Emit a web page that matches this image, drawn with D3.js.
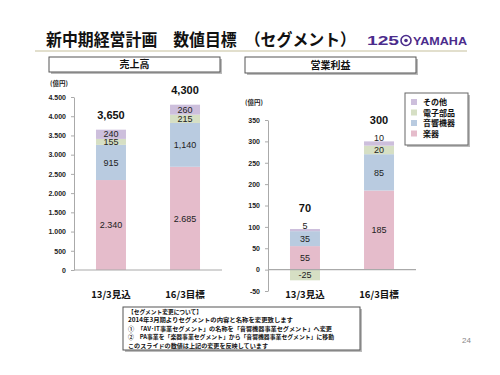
<!DOCTYPE html>
<html>
<head>
<meta charset="utf-8">
<script src="https://cdn.jsdelivr.net/npm/d3@7"></script>
<style>
  body { margin: 0; background: #fff; }
  svg { display: block; }
  text { font-family: "Liberation Sans", Arial, sans-serif; }
  .jp { font-family: "Noto Sans CJK JP", sans-serif; }
</style>
</head>
<body>
<svg id="chart" width="500" height="375"></svg>
<script>
// data
var periods = ["13/3見込", "16/3目標"];
var segments = ["楽器", "音響機器", "電子部品", "その他"];   // stacking order, bottom first
var salesGakki = [2340, 2685];
var salesOnkyo = [915, 1140];
var salesDenshi = [155, 215];
var salesOther = [240, 260];
var salesTotal = [3650, 4300];
var profitGakki = [55, 185];
var profitOnkyo = [35, 85];
var profitDenshi = [-25, 20];
var profitOther = [5, 10];
var profitTotal = [70, 300];
var salesTicks = [0, 500, 1000, 1500, 2000, 2500, 3000, 3500, 4000, 4500];
var profitTicks = [-50, 0, 50, 100, 150, 200, 250, 300, 350];
var legendOrder = ["その他", "電子部品", "音響機器", "楽器"];
var noteLines = [
  "【セグメント変更について】",
  "2014年3月期よりセグメントの内容と名称を変更致します",
  "①　「AV･IT事業セグメント」の名称を「音響機器事業セグメント」へ変更",
  "②　PA事業を「楽器事業セグメント」から「音響機器事業セグメント」に移動",
  "このスライドの数値は上記の変更を反映しています"
];

var colors = {"楽器": "#e5bccb", "音響機器": "#b9cbe0", "電子部品": "#d6dfc4", "その他": "#cdbfdc"};
var purple = "#4b2c8c";

var svg = d3.select("#chart");

// title
svg.append("text").attr("class", "jp")
  .attr("x", 46).attr("y", 46)
  .style("font-size", "16.5px").style("font-weight", "bold").attr("fill", "#111")
  .attr("textLength", 310).attr("lengthAdjust", "spacingAndGlyphs")
  .text("新中期経営計画　数値目標　（セグメント）");
svg.append("line").attr("x1", 35).attr("x2", 467).attr("y1", 51).attr("y2", 51)
  .attr("stroke", "#d8d4bc").attr("stroke-width", 1.5);

// logo
var logo = svg.append("g");
logo.append("text").attr("x", 367).attr("y", 45)
  .style("font-size", "12px").style("font-weight", "bold").attr("fill", purple)
  .attr("textLength", 32).attr("lengthAdjust", "spacingAndGlyphs").text("125");
logo.append("circle").attr("cx", 406).attr("cy", 40.5).attr("r", 5)
  .attr("fill", "#fff").attr("stroke", purple).attr("stroke-width", 1.6);
logo.append("circle").attr("cx", 406).attr("cy", 40.5).attr("r", 1.8).attr("fill", purple);
logo.append("text").attr("x", 413).attr("y", 45)
  .style("font-size", "11px").style("font-weight", "bold").attr("fill", purple)
  .attr("textLength", 54).attr("lengthAdjust", "spacingAndGlyphs").text("YAMAHA");

function headerBox(x, y, w, h, label) {
  svg.append("rect").attr("x", x + 2).attr("y", y + 2).attr("width", w).attr("height", h).attr("fill", "#bbb");
  svg.append("rect").attr("x", x).attr("y", y).attr("width", w).attr("height", h)
    .attr("fill", "#fff").attr("stroke", "#555").attr("stroke-width", 1);
  svg.append("text").attr("class", "jp").attr("x", x + w / 2).attr("y", y + h / 2 + 3.5)
    .attr("text-anchor", "middle").style("font-size", "10px").style("font-weight", "bold")
    .attr("fill", "#111").text(label);
}

function drawPanel(opt) {
  var g = svg.append("g");
  var x = d3.scaleBand().domain(periods).range(opt.xRange).paddingInner(0.595).paddingOuter(0.297);
  var y = d3.scaleLinear().domain(opt.domain).range(opt.yRange);

  // stack, negatives go downward from 0
  var bars = [];
  periods.forEach(function(p, i) {
    var pos = 0, neg = 0;
    segments.forEach(function(s, k) {
      var v = opt.series[k][i];
      var y0, y1;
      if (v >= 0) { y0 = pos; y1 = pos + v; pos = y1; }
      else { y0 = neg + v; y1 = neg; neg = y0; }
      bars.push({period: p, seg: s, v: v, y0: y0, y1: y1, top: k == segments.length - 1});
    });
  });

  g.selectAll("rect.seg").data(bars).enter().append("rect").attr("class", "seg")
    .attr("x", function(d) { return x(d.period); })
    .attr("width", x.bandwidth())
    .attr("y", function(d) { return y(d.y1); })
    .attr("height", function(d) { return y(d.y0) - y(d.y1); })
    .attr("fill", function(d) { return colors[d.seg]; });

  g.selectAll("text.seg").data(bars).enter().append("text").attr("class", "seg")
    .attr("x", function(d) { return x(d.period) + x.bandwidth() / 2; })
    .attr("y", function(d) {
      var h = y(d.y0) - y(d.y1);
      if (d.top && h < 6) return y(d.y1) - 0.5;
      return (y(d.y0) + y(d.y1)) / 2 + 3.2;
    })
    .attr("text-anchor", "middle").style("font-size", "9px").attr("fill", "#222")
    .text(function(d) { return opt.fmt(d); });

  // y axis
  var ax = g.append("g").attr("transform", "translate(" + opt.xRange[0] + ",0)")
    .call(d3.axisLeft(y).tickValues(opt.ticks).tickSize(3).tickSizeOuter(0).tickPadding(5).tickFormat(opt.tickFmt));
  ax.select(".domain").attr("stroke", "#aaa");
  ax.selectAll(".tick line").attr("stroke", "#aaa");
  ax.selectAll(".tick text").style("font-size", "7px").style("font-weight", "bold")
    .style("font-family", "Liberation Sans, Arial, sans-serif").attr("fill", "#222");

  // zero line
  g.append("line").attr("x1", opt.xRange[0]).attr("x2", opt.xRange[1])
    .attr("y1", y(0)).attr("y2", y(0)).attr("stroke", "#aaa").attr("stroke-width", 1.2);

  // totals
  g.selectAll("text.total").data(periods).enter().append("text").attr("class", "total")
    .attr("x", function(p) { return x(p) + x.bandwidth() / 2; })
    .attr("y", function(p, i) {
      var top = d3.sum(opt.series, function(s) { return Math.max(0, s[i]); });
      return y(top) - opt.totalGap;
    })
    .attr("text-anchor", "middle").style("font-size", "11px").style("font-weight", "bold").attr("fill", "#111")
    .text(function(p, i) { return d3.format(",")(opt.totals[i]); });

  // categories
  g.selectAll("text.cat").data(periods).enter().append("text").attr("class", "cat jp")
    .attr("x", function(p) { return x(p) + x.bandwidth() / 2; })
    .attr("y", 298)
    .attr("text-anchor", "middle").style("font-size", "9.5px").style("font-weight", "bold").attr("fill", "#111")
    .text(function(p) { return p; });

  // unit
  g.append("text").attr("class", "jp").attr("x", opt.unitX).attr("y", opt.unitY)
    .style("font-size", "6.5px").style("font-weight", "bold").attr("fill", "#222").text("(億円)");
}

headerBox(49, 57, 171, 15, "売上高");
headerBox(245, 57, 171, 16, "営業利益");

drawPanel({
  xRange: [74, 222], yRange: [270, 97], domain: [0, 4500],
  series: [salesGakki, salesOnkyo, salesDenshi, salesOther], totals: salesTotal,
  ticks: salesTicks, totalGap: 11, unitX: 50, unitY: 86,
  tickFmt: function(d) { return d3.format(",")(d).replace(",", "."); },
  fmt: function(d) {
    var s = d3.format(",")(d.v);
    return d.seg == "楽器" ? s.replace(",", ".") : s;
  }
});

drawPanel({
  xRange: [268, 416], yRange: [291, 120], domain: [-50, 350],
  series: [profitGakki, profitOnkyo, profitDenshi, profitOther], totals: profitTotal,
  ticks: profitTicks, totalGap: 17, unitX: 245, unitY: 105,
  tickFmt: function(d) { return d3.format("")(d).replace("−", "-"); },
  fmt: function(d) { return String(d.v); }
});

// legend
var lg = svg.append("g");
lg.append("rect").attr("x", 407).attr("y", 95).attr("width", 63).attr("height", 52).attr("fill", "#bbb");
lg.append("rect").attr("x", 405).attr("y", 93).attr("width", 63).attr("height", 52)
  .attr("fill", "#fff").attr("stroke", "#666");
var items = lg.selectAll("g.item").data(legendOrder).enter().append("g").attr("class", "item")
  .attr("transform", function(d, i) { return "translate(411," + (99 + i * 10.5) + ")"; });
items.append("rect").attr("width", 6).attr("height", 6).attr("fill", function(d) { return colors[d]; });
items.append("text").attr("class", "jp").attr("x", 12).attr("y", 6.2)
  .style("font-size", "8px").style("font-weight", "bold").attr("fill", "#111").text(function(d) { return d; });

// note
svg.append("rect").attr("x", 125).attr("y", 309).attr("width", 237).attr("height", 43).attr("fill", "#bbb");
svg.append("rect").attr("x", 123).attr("y", 307).attr("width", 237).attr("height", 43)
  .attr("fill", "#fff").attr("stroke", "#555");
svg.selectAll("text.note").data(noteLines).enter().append("text").attr("class", "note jp")
  .attr("x", 128).attr("y", function(d, i) { return 314 + i * 8.4; })
  .style("font-size", "5.8px").style("font-weight", "bold").attr("fill", "#111")
  .attr("textLength", function(d, i) { return [74, 165, 204, 206, 140][i]; })
  .attr("lengthAdjust", "spacingAndGlyphs")
  .text(function(d) { return d; });

svg.append("text").attr("x", 462).attr("y", 343).style("font-size", "8px").attr("fill", "#888").text("24");
</script>
</body>
</html>
